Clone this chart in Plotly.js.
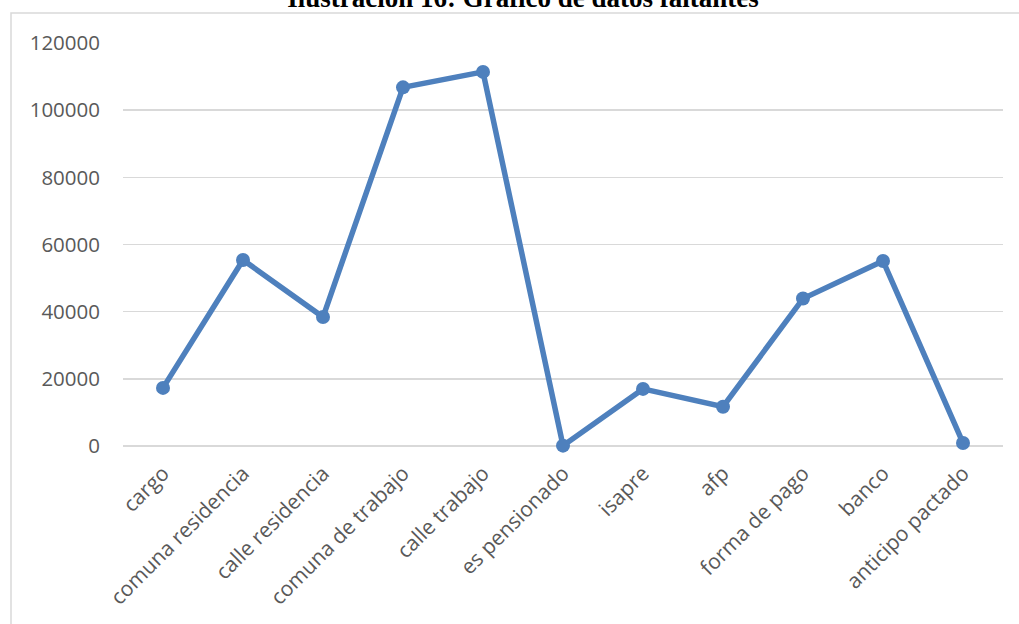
<!DOCTYPE html>
<html>
<head>
<meta charset="utf-8">
<script src="https://cdn.plot.ly/plotly-3.0.1.min.js"></script>
<style>html,body{margin:0;padding:0;background:#fff;}#chart{width:1019px;height:624px;}</style>
</head>
<body>
<div id="chart"></div>
<script>
const categories = ["cargo","comuna residencia","calle residencia","comuna de trabajo","calle trabajo","es pensionado","isapre","afp","forma de pago","banco","anticipo pactado"];
const faltantes = [17300, 55400, 38400, 106800, 111400, 100, 17000, 11700, 43900, 55100, 900];
const yTicks = [0, 20000, 40000, 60000, 80000, 100000, 120000];

const L = 123, R = 16, T = 43, B = 178;
const W = 1019, H = 624;
const pw = W - L - R, ph = H - T - B;
const px = x => (x - L) / pw;
const py = y => (H - B - y) / ph;

Plotly.newPlot('chart', [{
  type: 'scatter',
  mode: 'lines+markers',
  x: categories,
  y: faltantes,
  line: {color: '#4e80bd', width: 5.5},
  marker: {color: '#4e80bd', size: 14},
  cliponaxis: false,
  hoverinfo: 'x+y'
}], {
  width: W, height: H,
  margin: {l: L, r: R, t: T, b: B},
  paper_bgcolor: '#ffffff',
  plot_bgcolor: '#ffffff',
  showlegend: false,
  title: {
    text: '<b>Ilustración 16: Gráfico de datos faltantes</b>',
    font: {family: 'Liberation Serif, Times New Roman, serif', size: 27, color: '#000000'},
    x: px(523), xref: 'paper', xanchor: 'center',
    y: 1 - 7/624, yref: 'container', yanchor: 'bottom'
  },
  xaxis: {
    type: 'category',
    tickangle: -45,
    showgrid: false,
    zeroline: false,
    showline: false,
    ticks: '',
    ticklabelstandoff: 10,
    tickfont: {family: 'Open Sans, sans-serif', size: 21, color: '#595959'},
    range: [-0.5, categories.length - 0.5],
    fixedrange: true
  },
  yaxis: {
    range: [0, 120000],
    tickvals: yTicks,
    ticktext: yTicks.map(String),
    showgrid: true,
    gridcolor: '#d9d9d9',
    gridwidth: 1.5,
    zeroline: true,
    zerolinecolor: '#d9d9d9',
    zerolinewidth: 1.5,
    showline: false,
    ticks: '',
    ticklabelstandoff: 22,
    tickfont: {family: 'Open Sans, sans-serif', size: 20.5, color: '#595959'},
    fixedrange: true
  },
  shapes: [{
    type: 'rect', xref: 'paper', yref: 'paper',
    x0: px(11), x1: px(1030), y0: py(640), y1: py(13),
    line: {color: '#d9d9d9', width: 1.5},
    layer: 'below'
  }]
}, {displayModeBar: false, staticPlot: true});
</script>
</body>
</html>
